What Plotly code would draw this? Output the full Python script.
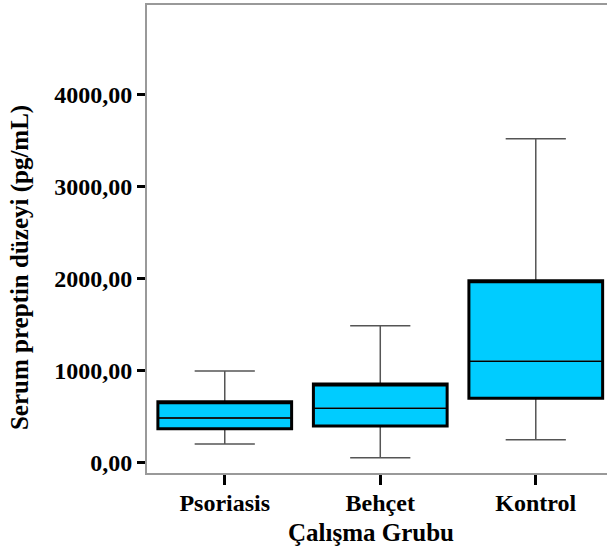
import plotly.graph_objects as go

categories = ["Psoriasis", "Behçet", "Kontrol"]
lower_whisker = [203, 54, 250]
q1 = [370, 399, 700]
median = [486, 591, 1102]
q3 = [663, 855, 1978]
upper_whisker = [997, 1489, 3522]

y_tick_values = [0, 1000, 2000, 3000, 4000]
y_tick_labels = ["0,00", "1000,00", "2000,00", "3000,00", "4000,00"]

y_title = "Serum preptin düzeyi (pg/mL)"
x_title = "Çalışma Grubu"

FONT = "Liberation Serif"

fig = go.Figure()
# whiskers + fill
fig.add_trace(go.Box(
    x=categories, q1=q1, median=median, q3=q3,
    lowerfence=lower_whisker, upperfence=upper_whisker,
    fillcolor="#00ccff", line=dict(color="#555555", width=1.5),
    whiskerwidth=0.45, width=0.86, boxpoints=False, showlegend=False,
    hoverinfo="skip",
))
# median line (black, thin)
fig.add_trace(go.Box(
    x=categories, q1=median, median=median, q3=median,
    lowerfence=median, upperfence=median,
    fillcolor="rgba(0,0,0,0)", line=dict(color="black", width=1.3),
    whiskerwidth=0, width=0.86, boxpoints=False, showlegend=False,
    hoverinfo="skip",
))
# thick box outline
fig.add_trace(go.Box(
    x=categories, q1=q1, median=q3, q3=q3,
    lowerfence=q1, upperfence=q3,
    fillcolor="rgba(0,0,0,0)", line=dict(color="black", width=3),
    whiskerwidth=0, width=0.86, boxpoints=False, showlegend=False,
    hoverinfo="skip",
))

fig.update_layout(
    width=607, height=554,
    margin=dict(l=147, r=0, t=5, b=81),
    plot_bgcolor="white", paper_bgcolor="white",
    boxmode="overlay",
    font=dict(family=FONT, size=24, color="black", weight="bold"),
    xaxis=dict(
        range=[-0.5, 2.458], showline=True, mirror=True,
        linecolor="#999999", linewidth=2, showgrid=False, zeroline=False,
        ticks="outside", ticklen=10, tickwidth=3, tickcolor="black",
        tickfont=dict(family=FONT, size=24, weight="bold"),
        ticklabelstandoff=-3,
    ),
    yaxis=dict(
        range=[-112, 4975], showline=True, mirror=False,
        linecolor="#999999", linewidth=2, showgrid=False, zeroline=False,
        ticks="outside", ticklen=8, tickwidth=3, tickcolor="black",
        tickvals=y_tick_values, ticktext=y_tick_labels,
        tickfont=dict(family=FONT, size=24, weight="bold"),
    ),
    annotations=[
        dict(text=y_title, xref="paper", yref="paper", x=-0.276, y=0.438,
             textangle=-90, showarrow=False, xanchor="center", yanchor="middle",
             font=dict(family=FONT, size=25, weight="bold")),
        dict(text=x_title, xref="paper", yref="paper", x=0.486, y=-0.128,
             showarrow=False, xanchor="center", yanchor="middle",
             font=dict(family=FONT, size=25, weight="bold")),
    ],
)

fig.write_html("out.html", config={"displayModeBar": False},
               post_script="document.body.style.margin='0';")
